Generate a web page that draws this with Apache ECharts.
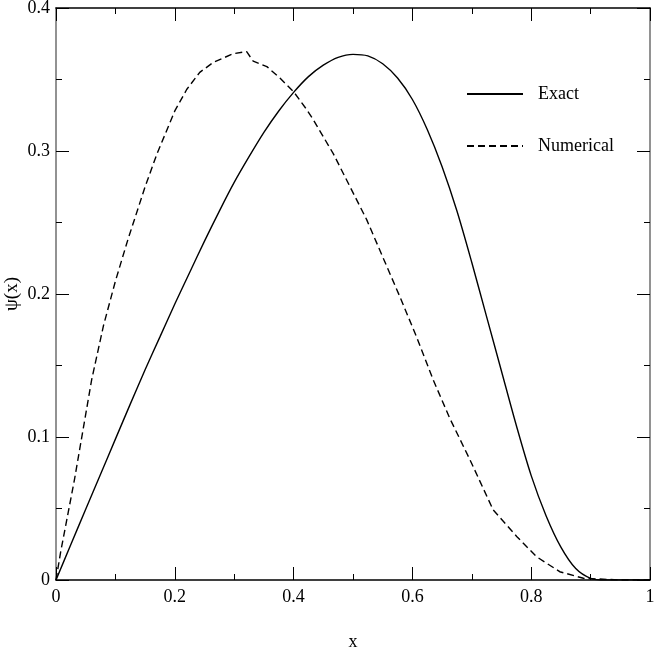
<!DOCTYPE html>
<html>
<head>
<meta charset="utf-8">
<title>psi(x)</title>
<script src="https://cdn.jsdelivr.net/npm/echarts@6/dist/echarts.min.js"></script>
<style>
  html, body { margin: 0; padding: 0; background: #fff; }
  #chart { width: 654px; height: 654px; }
</style>
</head>
<body>
<div id="chart"></div>
<script>
// exact solution
const exactX = [0, 0.025, 0.05, 0.075, 0.1, 0.125, 0.15, 0.175, 0.2, 0.225, 0.25, 0.275, 0.3, 0.325, 0.35, 0.375, 0.4, 0.425, 0.45, 0.475, 0.5, 0.525, 0.55, 0.575, 0.6, 0.625, 0.65, 0.675, 0.7, 0.725, 0.75, 0.775, 0.8, 0.825, 0.85, 0.875, 0.9, 0.925, 0.95, 1]
const exactY = [0, 0.0248, 0.0495, 0.074, 0.0985, 0.123, 0.147, 0.17, 0.193, 0.215, 0.237, 0.258, 0.278, 0.296, 0.313, 0.328, 0.341, 0.352, 0.36, 0.3655, 0.3676, 0.3665, 0.361, 0.351, 0.336, 0.315, 0.289, 0.258, 0.222, 0.184, 0.146, 0.108, 0.073, 0.045, 0.023, 0.008, 0.0012, 0, 0, 0]
// numerical solution
const numX = [0, 0.008, 0.031, 0.06, 0.08, 0.1, 0.121, 0.15, 0.17, 0.2, 0.22, 0.242, 0.265, 0.298, 0.321, 0.332, 0.355, 0.377, 0.4, 0.422, 0.433, 0.467, 0.523, 0.579, 0.607, 0.635, 0.663, 0.697, 0.736, 0.776, 0.809, 0.848, 0.888, 0.95, 1]
const numY = [0, 0.02, 0.07, 0.14, 0.178, 0.209, 0.238, 0.275, 0.298, 0.328, 0.343, 0.355, 0.362, 0.368, 0.3695, 0.3628, 0.359, 0.351, 0.3415, 0.329, 0.322, 0.298, 0.252, 0.198, 0.17, 0.14, 0.113, 0.084, 0.049, 0.0303, 0.0163, 0.0058, 0.0012, 0, 0]

const fontFamily = '"Liberation Serif", "DejaVu Serif", serif'

const chartInstance = echarts.init(document.getElementById('chart'), null, { renderer: 'canvas' })

function zip (xs, ys) {
  return xs.map((x, i) => [x, ys[i]])
}

// shared axis look: inward ticks, minor ticks between majors
function frameAxis (lineColor) {
  return {
    axisLine: { show: true, onZero: false, lineStyle: { color: lineColor, width: 1.6 } },
    axisTick: { show: true, inside: true, length: 13, lineStyle: { color: '#000', width: 1 } },
    minorTick: { show: true, splitNumber: 2, length: 6, lineStyle: { color: '#000', width: 1 } },
    splitLine: { show: false },
    minorSplitLine: { show: false }
  }
}

const labelStyle = { color: '#000', fontFamily: fontFamily, fontSize: 18 }

const initOption = {
  backgroundColor: '#fff',
  animation: false,
  grid: { left: 56, right: 4, top: 8, bottom: 74, outerBoundsMode: 'none' },
  legend: {
    orient: 'vertical',
    left: 466,
    top: 85,
    padding: 0,
    itemWidth: 56,
    itemHeight: 14,
    itemGap: 34,
    // hide the circle marker, keep only the line sample
    itemStyle: { opacity: 0 },
    textStyle: { color: '#000', fontFamily: fontFamily, fontSize: 18, padding: [0, 0, 0, 10] },
    data: ['Exact', 'Numerical']
  },
  xAxis: [
    Object.assign({
      type: 'value',
      min: 0,
      max: 1,
      interval: 0.2,
      position: 'bottom',
      name: 'x',
      nameLocation: 'middle',
      nameGap: 53,
      nameMoveOverlap: false,
      nameTextStyle: labelStyle,
      axisLabel: Object.assign({ margin: 8, formatter: v => String(parseFloat(v.toFixed(1))) }, labelStyle)
    }, frameAxis('#000')),
    Object.assign({
      type: 'value',
      min: 0,
      max: 1,
      interval: 0.2,
      position: 'top',
      axisLabel: { show: false }
    }, frameAxis('#000'))
  ],
  yAxis: [
    Object.assign({
      type: 'value',
      min: 0,
      max: 0.4,
      interval: 0.1,
      position: 'left',
      name: 'ψ(x)',
      nameLocation: 'middle',
      nameGap: 34,
      nameMoveOverlap: false,
      nameTextStyle: Object.assign({}, labelStyle, { fontSize: 19 }),
      axisLabel: Object.assign({ margin: 6, formatter: v => String(parseFloat(v.toFixed(1))) }, labelStyle)
    }, frameAxis('#777')),
    Object.assign({
      type: 'value',
      min: 0,
      max: 0.4,
      interval: 0.1,
      position: 'right',
      axisLabel: { show: false }
    }, frameAxis('#777'))
  ],
  series: [
    {
      name: 'Exact',
      type: 'line',
      xAxisIndex: 0,
      yAxisIndex: 0,
      symbol: 'none',
      smooth: 0.3,
      lineStyle: { color: '#000', width: 1.4, type: 'solid' },
      itemStyle: { color: '#000' },
      data: zip(exactX, exactY)
    },
    {
      name: 'Numerical',
      type: 'line',
      xAxisIndex: 0,
      yAxisIndex: 0,
      symbol: 'none',
      lineStyle: { color: '#000', width: 1.4, type: [7, 4] },
      itemStyle: { color: '#000' },
      data: zip(numX, numY)
    }
  ]
}

chartInstance.setOption(initOption)
</script>
</body>
</html>
